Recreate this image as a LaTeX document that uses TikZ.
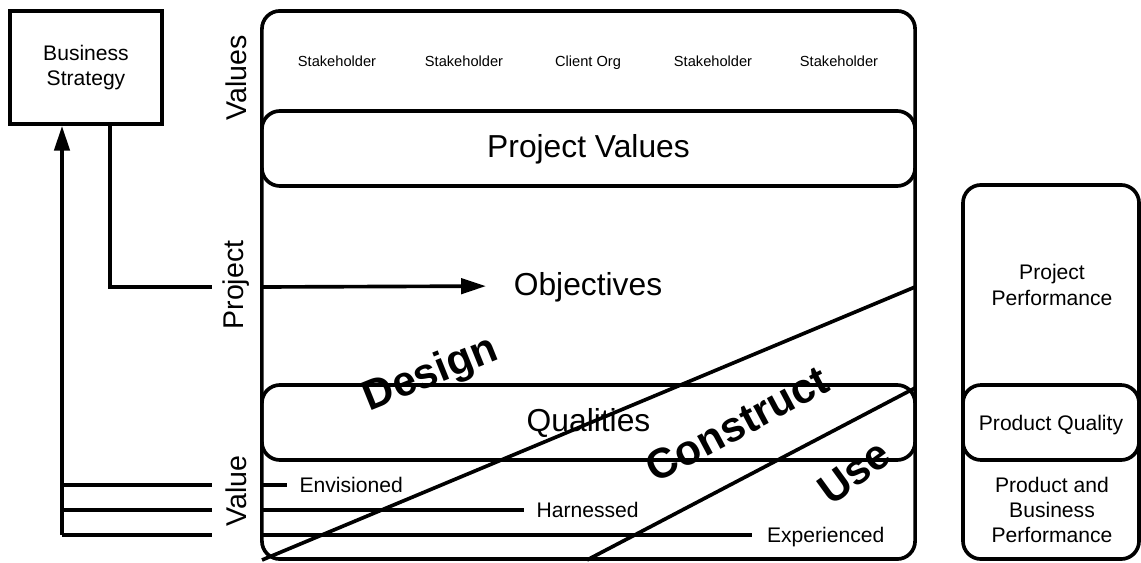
\documentclass[tikz,border=0pt]{standalone}
\usepackage{fontspec}
\setmainfont{Liberation Sans}
\usetikzlibrary{arrows.meta}

\begin{document}
\begin{tikzpicture}[x=0.025cm,y=-0.025cm,line width=2.6pt,>={Triangle[length=0.62cm,width=0.38cm]},
  frame node/.style={draw,rounded corners=0.45cm,minimum width=16.325cm,minimum height=1.875cm,inner sep=0pt},
  side node/.style={draw,rounded corners=0.45cm,minimum width=4.4cm,inner sep=0pt},
  small node/.style={font=\fontsize{10.4}{12}\selectfont,text height=7.5pt,text depth=0pt},
  big node/.style={font=\fontsize{22.6}{27}\selectfont,text height=16.3pt,text depth=2.9pt},
  mid node/.style={font=\fontsize{15}{18}\selectfont,align=center,inner sep=0pt},
  line node/.style={font=\fontsize{15}{18}\selectfont,anchor=west,inner ysep=0pt,text height=10.8pt,text depth=0pt},
  axis node/.style={rotate=90,font=\fontsize{20.3}{24}\selectfont},
  phase node/.style={font=\fontsize{30}{36}\selectfont\bfseries}]

  \useasboundingbox (0,0) rectangle (1141,563);

  \node[draw,minimum width=3.8cm,minimum height=2.825cm,mid node] (bs) at (86,67.5) {Business\\Strategy};

  \node[frame node,minimum height=13.7cm] (main) at (588.5,285) {};
  \node[frame node,big node] (pv) at (588.5,148.5) {Project Values};
  \node[frame node,big node] (ql) at (588.5,422.5) {Qualities};
  \node[side node,minimum height=9.35cm] (perf) at (1051,372) {};
  \node[side node,minimum height=1.875cm,mid node,text height=10.8pt,text depth=0pt] (pq) at (1051,422.5) {Product Quality};

  \node[mid node] (pp) at (1052,285) {Project\\Performance};
  \node[mid node] (pbp) at (1052,510) {Product and\\Business\\Performance};

  \foreach \x/\t [count=\i] in {337/Stakeholder,464/Stakeholder,588/Client Org,713/Stakeholder,839/Stakeholder}
    \node[small node] (sh\i) at (\x,61) {\t};

  \node[axis node] (lvalues) at (236,78) {Values};
  \node[axis node] (lproject) at (236,285) {Project};
  \node[axis node] (lvalue) at (236,491) {Value};

  \node[big node,inner sep=0pt] (obj) at (588,286) {Objectives};

  % strategy to objectives
  \coordinate (bsout) at (110,124);
  \coordinate (gapl) at (212,287);
  \coordinate (gapr) at (262,287);
  \draw (bsout) |- (gapl);
  \draw[->,shorten >=0.65cm] (gapr) -- (obj.west);

  % value back to strategy
  \coordinate (fb) at (62,535);
  \draw[->] (fb) -- (fb |- bs.south);
  \foreach \y in {485,510,535}
    \draw (62,\y) -- (212,\y);

  \node[line node,inner xsep=0.27cm] (env) at (287,485) {Envisioned};
  \node[line node,inner xsep=0.27cm] (har) at (524,510) {Harnessed};
  \node[line node,inner xsep=0.33cm] (exp) at (752,535) {Experienced};
  \draw (main.west |- env.west) -- (env.west);
  \draw (main.west |- har.west) -- (har.west);
  \draw (main.west |- exp.west) -- (exp.west);

  % phases
  \coordinate (d1) at (262,560);
  \coordinate (d2) at (915,287);
  \coordinate (u1) at (587,560);
  \coordinate (u2) at (915,388);
  \draw (d1) -- (d2);
  \draw (u1) -- (u2);

  \node[phase node,rotate=22] (design) at (431,375) {Design};
  \node[phase node,rotate=28] (construct) at (737,424) {Construct};
  \node[phase node,rotate=36] (use) at (854,472) {Use};
\end{tikzpicture}
\end{document}
